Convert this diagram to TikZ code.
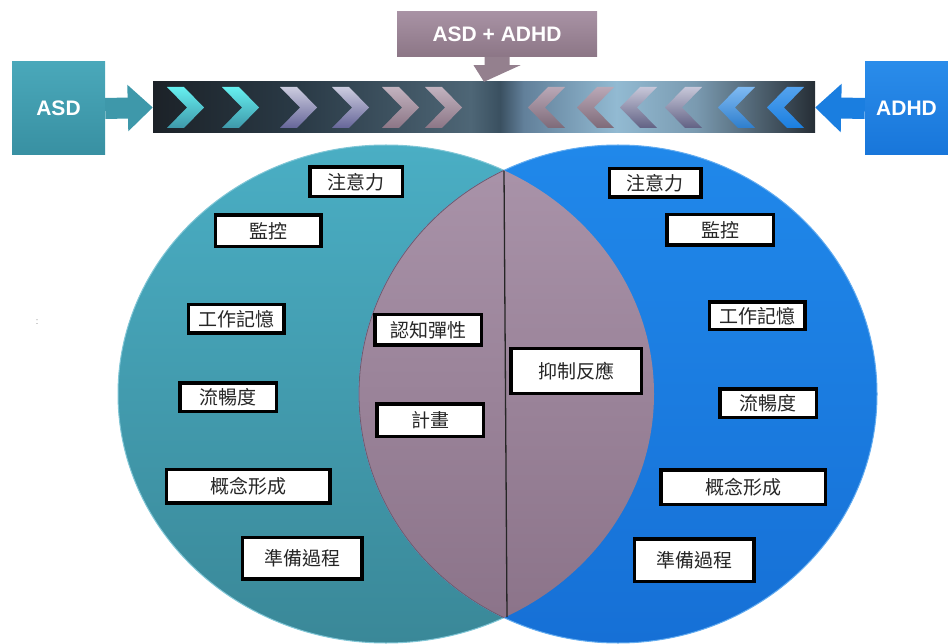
\documentclass[tikz,border=0pt]{standalone}
\usepackage{fontspec}
\setmainfont{Liberation Sans}
\newfontfamily\cjk{Noto Sans CJK TC}
\usetikzlibrary{arrows.meta,calc}
\definecolor{barA}{HTML}{1C2228}
\definecolor{barB}{HTML}{2A3A46}
\definecolor{barC}{HTML}{4E6676}
\definecolor{barD}{HTML}{3A5060}
\definecolor{barE}{HTML}{62809A}
\definecolor{barF}{HTML}{92BAD2}
\definecolor{barG}{HTML}{7A9AB0}
\definecolor{barH}{HTML}{262E36}
\definecolor{tealT}{HTML}{4AAEC4}
\definecolor{tealB}{HTML}{3A8898}
\definecolor{blueT}{HTML}{2088EA}
\definecolor{blueB}{HTML}{1670D6}
\definecolor{lensT}{HTML}{AA94AA}
\definecolor{lensB}{HTML}{8A7288}
\definecolor{asdT}{HTML}{4AA8BA}
\definecolor{asdB}{HTML}{3890A2}
\definecolor{adhdT}{HTML}{2A8CEA}
\definecolor{adhdB}{HTML}{1876DA}
\definecolor{comboT}{HTML}{A892A4}
\definecolor{comboB}{HTML}{8C7686}
\definecolor{comboA}{HTML}{94808E}
\definecolor{asdA}{HTML}{3E98AA}
\definecolor{adhdA}{HTML}{1A7EE0}
\pgfdeclarehorizontalshading{barshade}{100bp}{color(0bp)=(barA); color(25bp)=(barA); color(36bp)=(barB); color(49bp)=(barC); color(51.2bp)=(barD); color(53bp)=(barE); color(60bp)=(barF); color(66bp)=(barG); color(75bp)=(barH); color(100bp)=(barH)}
\tikzset{
  bigbox/.style={draw=none, inner sep=0pt, text=white, font=\bfseries\fontsize{21}{21}\selectfont},
  tb/.style={draw=black, line width=3.5pt, fill=white, inner sep=0pt, text=black!85, font=\cjk\fontsize{19}{19}\selectfont},
  chevr/.pic={\path[pic actions] (0,0) -- (17,0) -- (37,20.5) -- (17,41) -- (0,41) -- (20,20.5) -- cycle;},
  chevl/.pic={\path[pic actions] (37,0) -- (20,0) -- (0,20.5) -- (20,41) -- (37,41) -- (17,20.5) -- cycle;}
}
\begin{document}
\begin{tikzpicture}[x=1pt,y=-1pt]
\useasboundingbox (0,0) rectangle (948,644);
% circles
\path[top color=tealT, bottom color=tealB, draw=tealT!70!white, line width=1pt] (386,394) ellipse [x radius=268pt, y radius=249pt];
\path[top color=blueT, bottom color=blueB, draw=blueT!70!white, line width=1pt] (618,394) ellipse [x radius=259pt, y radius=249pt];
\begin{scope}
  \clip (386,394) ellipse [x radius=268pt, y radius=249pt];
  \path[top color=lensT, bottom color=lensB, draw=lensB!80!black, line width=0.8pt] (618,394) ellipse [x radius=259pt, y radius=249pt];
\end{scope}
\coordinate (lt) at (504,171);
\coordinate (lb) at (507,617);
\draw[black!85, line width=1.3pt] (lt) -- (lb);
% top bar
\node[draw=none, shading=barshade, minimum width=662pt, minimum height=51pt, inner sep=0pt] (bar) at (484,107.5) {};
\pic[top color=teal!20!cyan!60!white, bottom color=asdA] at (167,87) {chevr};
\pic[top color=teal!20!cyan!60!white, bottom color=asdA] at (222,87) {chevr};
\pic[top color=blue!10!white!75!gray, bottom color=blue!20!gray] at (280,87) {chevr};
\pic[top color=blue!10!white!75!gray, bottom color=blue!20!gray] at (332,87) {chevr};
\pic[top color=comboT!70!white, bottom color=comboB] at (382,87) {chevr};
\pic[top color=comboT!70!white, bottom color=comboB] at (425,87) {chevr};
\pic[top color=comboT!80!white, bottom color=comboB!90!black] at (528,87) {chevl};
\pic[top color=comboT!80!white, bottom color=comboB!90!black] at (577,87) {chevl};
\pic[top color=blue!10!white!70!gray, bottom color=blue!15!gray!90!black] at (620,87) {chevl};
\pic[top color=blue!10!white!70!gray, bottom color=blue!15!gray!90!black] at (665,87) {chevl};
\pic[top color=adhdT!60!white, bottom color=adhdA!80!gray] at (718,87) {chevl};
\pic[top color=adhdT!80!white, bottom color=adhdA] at (767,87) {chevl};
% boxes
\node[bigbox, top color=asdT, bottom color=asdB, minimum width=93pt, minimum height=93pt] (asd) at (58.5,108.5) {ASD};
\node[bigbox, top color=adhdT, bottom color=adhdB, minimum width=83pt, minimum height=93pt] (adhd) at (906.5,108.5) {ADHD};
\node[bigbox, top color=comboT, bottom color=comboB, minimum width=200pt, minimum height=45pt] (combo) at (497,34.5) {ASD + ADHD};
\draw[asdA, line width=21pt, -{Triangle[width=45pt,length=25pt]}] (asd.east) -- (bar.west);
\draw[adhdA, line width=21pt, -{Triangle[width=47pt,length=26pt]}] (adhd.west) -- (bar.east);
\fill[comboA] ($(combo.south)+(-12.5,0)$) -- ($(combo.south)+(12.5,0)$) -- ($(combo.south)+(12.5,8)$) -- ($(combo.south)+(23.5,8)$) -- (bar.north) -- ($(combo.south)+(-23.5,8)$) -- ($(combo.south)+(-12.5,8)$) -- cycle;
% text boxes
\node[tb, minimum width=92.5pt, minimum height=29.5pt] (l1) at (356,182) {注意力};
\node[tb, minimum width=105.5pt, minimum height=31.5pt] (l2) at (268,231) {監控};
\node[tb, minimum width=95.5pt, minimum height=28.5pt] (l3) at (236,319) {工作記憶};
\node[tb, minimum width=96.5pt, minimum height=28.5pt] (l4) at (228,397) {流暢度};
\node[tb, minimum width=163.5pt, minimum height=33.5pt] (l5) at (248,486) {概念形成};
\node[tb, minimum width=119.5pt, minimum height=41.5pt] (l6) at (302,558) {準備過程};
\node[tb, minimum width=106.5pt, minimum height=30.5pt] (m1) at (428,330) {認知彈性};
\node[tb, minimum width=106.5pt, minimum height=32.5pt] (m2) at (430,420) {計畫};
\node[tb, minimum width=130.5pt, minimum height=44.5pt] (m3) at (576,371) {抑制反應};
\node[tb, minimum width=91.5pt, minimum height=28.5pt] (r1) at (655,183) {注意力};
\node[tb, minimum width=106.5pt, minimum height=30.5pt] (r2) at (720,230) {監控};
\node[tb, minimum width=95.5pt, minimum height=27.5pt] (r3) at (757,316) {工作記憶};
\node[tb, minimum width=96.5pt, minimum height=28.5pt] (r4) at (768,403) {流暢度};
\node[tb, minimum width=164.5pt, minimum height=34.5pt] (r5) at (743,487) {概念形成};
\node[tb, minimum width=119.5pt, minimum height=42.5pt] (r6) at (694,560) {準備過程};
\node[text=black!50, font=\fontsize{9}{9}\selectfont, inner sep=0pt] (dots) at (37,322) {:};
\end{tikzpicture}
\end{document}
